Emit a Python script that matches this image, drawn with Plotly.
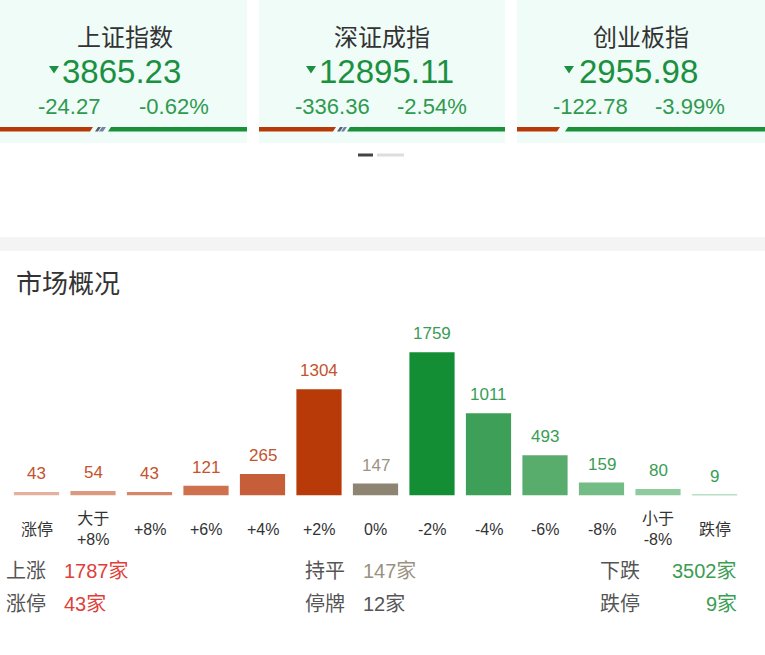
import plotly.graph_objects as go

# ---------------- data ----------------
index_names = ["上证指数", "深证成指", "创业板指"]
index_values = ["3865.23", "12895.11", "2955.98"]
index_changes = ["-24.27", "-336.36", "-122.78"]
index_pcts = ["-0.62%", "-2.54%", "-3.99%"]

categories = ["涨停", "大于+8%", "+8%", "+6%", "+4%", "+2%", "0%",
              "-2%", "-4%", "-6%", "-8%", "小于-8%", "跌停"]
tick_labels = ["涨停", "大于<br>+8%", "+8%", "+6%", "+4%", "+2%", "0%",
               "-2%", "-4%", "-6%", "-8%", "小于<br>-8%", "跌停"]
counts = [43, 54, 43, 121, 265, 1304, 147, 1759, 1011, 493, 159, 80, 9]

stat_labels = ["上涨", "涨停", "持平", "停牌", "下跌", "跌停"]
stat_values = [1787, 43, 147, 12, 3502, 9]

# ---------------- styles ----------------
W, H = 765, 655
FONT = "Liberation Sans, Noto Sans CJK SC, sans-serif"
bar_colors = ["#e3b19d", "#da9a80", "#d4866b", "#cd714f", "#c65e3a", "#b83a08",
              "#8d8471", "#138e35", "#3d9f58", "#58ad6d", "#73bc86", "#90cb9f", "#b8dfc3"]
label_colors = ["#c4532e"] * 6 + ["#9a9384"] + ["#3a9d55"] * 6

def X(px):
    return px / W

def Y(py):
    return 1 - py / H

def path(pts):
    s = "M " + " L ".join(f"{X(x):.5f},{Y(y):.5f}" for x, y in pts) + " Z"
    return s

shapes = []
annotations = []

# cards
card_x = [(0, 247), (259, 505), (517, 765)]
card_cx = [125, 382, 641]
for (x0, x1) in card_x:
    shapes.append(dict(type="rect", xref="paper", yref="paper", x0=X(x0), x1=X(x1),
                       y0=Y(143), y1=Y(0), fillcolor="#effcf8", line=dict(width=0), layer="below"))

RED = "#b83a08"
GREEN = "#1a9038"
bar_segments = [
    # card 1
    ([(0, 127), (93, 127), (90, 131.5), (0, 131.5)], RED),
    ([(98, 127), (101, 127), (98, 131.5), (95, 131.5)], "#5b5f6b"),
    ([(102, 127), (106, 127), (103, 131.5), (99, 131.5)], "#7482a6"),
    ([(111, 127), (247, 127), (247, 131.5), (108, 131.5)], GREEN),
    # card 2
    ([(259, 127), (336, 127), (333, 131.5), (259, 131.5)], RED),
    ([(340, 127), (343, 127), (340, 131.5), (337, 131.5)], "#5b5f6b"),
    ([(344, 127), (347, 127), (344, 131.5), (341, 131.5)], "#7482a6"),
    ([(350, 127), (505, 127), (505, 131.5), (347, 131.5)], GREEN),
    # card 3
    ([(517, 127), (560, 127), (557, 131.5), (517, 131.5)], RED),
    ([(568, 127), (765, 127), (765, 131.5), (565, 131.5)], GREEN),
]
for pts, col in bar_segments:
    shapes.append(dict(type="path", xref="paper", yref="paper", path=path(pts),
                       fillcolor=col, line=dict(width=0)))

value_left = [63, 320, 580]
tri_left = [49, 306, 564]
chg_left = [38, 295, 553]
pct_left = [139, 397, 655]
for i in range(3):
    annotations.append(dict(text=index_names[i], x=X(card_cx[i]), y=Y(37), xref="paper", yref="paper",
                            xanchor="center", yanchor="middle", showarrow=False,
                            font=dict(family=FONT, size=24, color="#333333")))
    tl = tri_left[i]
    shapes.append(dict(type="path", xref="paper", yref="paper",
                       path=path([(tl, 66), (tl + 10, 66), (tl + 5, 73.5)]),
                       fillcolor="#1b9040", line=dict(width=0)))
    annotations.append(dict(text=index_values[i], x=X(value_left[i] - 3), y=Y(71), xref="paper", yref="paper",
                            xanchor="left", yanchor="middle", showarrow=False,
                            font=dict(family=FONT, size=33, color="#1b9040")))
    annotations.append(dict(text=index_changes[i], x=X(chg_left[i] - 2), y=Y(107), xref="paper", yref="paper",
                            xanchor="left", yanchor="middle", showarrow=False,
                            font=dict(family=FONT, size=22, color="#2f9a4f")))
    annotations.append(dict(text=index_pcts[i], x=X(pct_left[i] - 2), y=Y(107), xref="paper", yref="paper",
                            xanchor="left", yanchor="middle", showarrow=False,
                            font=dict(family=FONT, size=22, color="#2f9a4f")))

# page indicator
shapes.append(dict(type="rect", xref="paper", yref="paper", x0=X(358), x1=X(373), y0=Y(156.5), y1=Y(153.5),
                   fillcolor="#444444", line=dict(width=0)))
shapes.append(dict(type="rect", xref="paper", yref="paper", x0=X(377), x1=X(404), y0=Y(156.5), y1=Y(153.5),
                   fillcolor="#dddddd", line=dict(width=0)))

# gray band
shapes.append(dict(type="rect", xref="paper", yref="paper", x0=0, x1=1, y0=Y(251), y1=Y(237),
                   fillcolor="#f4f4f4", line=dict(width=0), layer="below"))

annotations.append(dict(text="市场概况", x=X(14), y=Y(284), xref="paper", yref="paper",
                        xanchor="left", yanchor="middle", showarrow=False,
                        font=dict(family=FONT, size=26, color="#333333")))

# bar chart
fig = go.Figure()
fig.add_trace(go.Bar(x=categories, y=counts, marker=dict(color=bar_colors, line=dict(width=0)),
                     hoverinfo="skip"))

for c, v, col in zip(categories, counts, label_colors):
    annotations.append(dict(text=str(v), x=c, y=v, xref="x", yref="y", xanchor="center",
                            yanchor="middle", yshift=18.5, showarrow=False,
                            font=dict(family=FONT, size=17, color=col)))
for c, t in zip(categories, tick_labels):
    annotations.append(dict(text=t, x=c, y=Y(529), xref="x", yref="paper", xanchor="center",
                            yanchor="middle", showarrow=False,
                            font=dict(family=FONT, size=16, color="#333333")))

# bottom stats
stat_label_x = [4, 4, 303, 303, 598, 598]
stat_y = [571, 604, 571, 604, 571, 604]
stat_colors = ["#de3f3b", "#de3f3b", "#9a917f", "#555555", "#3a9d52", "#3a9d52"]
for i in range(6):
    annotations.append(dict(text=stat_labels[i], x=X(stat_label_x[i]), y=Y(stat_y[i]), xref="paper", yref="paper",
                            xanchor="left", yanchor="middle", showarrow=False,
                            font=dict(family=FONT, size=20, color="#555555")))
for i in range(6):
    txt = f"{stat_values[i]}家"
    if i >= 4:
        annotations.append(dict(text=txt, x=X(739), y=Y(stat_y[i]), xref="paper", yref="paper",
                                xanchor="right", yanchor="middle", showarrow=False,
                                font=dict(family=FONT, size=20, color=stat_colors[i])))
    else:
        annotations.append(dict(text=txt, x=X(stat_label_x[i] + 58), y=Y(stat_y[i]), xref="paper", yref="paper",
                                xanchor="left", yanchor="middle", showarrow=False,
                                font=dict(family=FONT, size=20, color=stat_colors[i])))

baseline = 495.5
top_px = 300
scale = 0.0814
fig.update_layout(
    width=W, height=H, margin=dict(l=0, r=0, t=0, b=0),
    paper_bgcolor="white", plot_bgcolor="rgba(0,0,0,0)",
    showlegend=False, bargap=0.2,
    xaxis=dict(domain=[X(8.25), X(742.75)], showticklabels=False, showgrid=False,
               zeroline=False, showline=False, ticks="", fixedrange=True),
    yaxis=dict(domain=[Y(baseline), Y(top_px)], range=[0, (baseline - top_px) / scale],
               visible=False, fixedrange=True),
    shapes=shapes, annotations=annotations,
)

fig.write_html("out.html", config={"displayModeBar": False},
               post_script="document.body.style.margin='0';document.body.style.overflow='hidden';")
